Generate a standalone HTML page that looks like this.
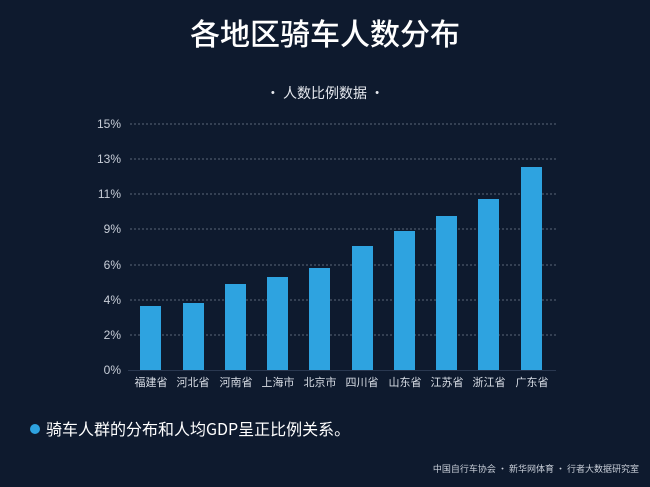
<!DOCTYPE html>
<html><head><meta charset="utf-8"><style>
body{margin:0;width:650px;height:487px;background:#0e1a2e;overflow:hidden;font-family:"Liberation Sans","Noto Sans CJK SC",sans-serif;}
</style></head><body>
<svg width="650" height="487" xmlns="http://www.w3.org/2000/svg" style="position:absolute;left:0;top:0">
<rect width="650" height="487" fill="#0e1a2e"/>
<text x="325" y="45" fill="#fff" font-size="30" text-anchor="middle" font-family="Noto Sans CJK SC,sans-serif" font-weight="500">各地区骑车人数分布</text>
<text x="325" y="98" fill="#e6e9ef" font-size="14" text-anchor="middle" font-family="Noto Sans CJK SC,sans-serif">· 人数比例数据 ·</text>
<g stroke="#5a6578" stroke-width="1" stroke-dasharray="2,2">
<line x1="130" x2="556" y1="124" y2="124"/><line x1="130" x2="556" y1="159" y2="159"/>
<line x1="130" x2="556" y1="194" y2="194"/><line x1="130" x2="556" y1="229" y2="229"/>
<line x1="130" x2="556" y1="265" y2="265"/><line x1="130" x2="556" y1="300" y2="300"/>
<line x1="130" x2="556" y1="335" y2="335"/>
</g>
<g fill="#c8ced8" font-size="12" text-anchor="end">
<text x="121" y="128">15%</text><text x="121" y="163">13%</text><text x="121" y="198">11%</text>
<text x="121" y="233">9%</text><text x="121" y="269">6%</text><text x="121" y="304">4%</text>
<text x="121" y="339">2%</text><text x="121" y="374">0%</text>
</g>
<g fill="#2ea3e0">
<rect x="140" y="306" width="21" height="64"/><rect x="183" y="303" width="21" height="67"/>
<rect x="225" y="284" width="21" height="86"/><rect x="267" y="277" width="21" height="93"/>
<rect x="309" y="268" width="21" height="102"/><rect x="352" y="246" width="21" height="124"/>
<rect x="394" y="231" width="21" height="139"/><rect x="436" y="216" width="21" height="154"/>
<rect x="478" y="199" width="21" height="171"/><rect x="521" y="167" width="21" height="203"/>
</g>
<line x1="128" x2="556" y1="370.5" y2="370.5" stroke="#2a3850"/>
<g fill="#d8dde5" font-size="11" text-anchor="middle" font-family="Noto Sans CJK SC,sans-serif">
<text x="151" y="386">福建省</text><text x="193" y="386">河北省</text><text x="236" y="386">河南省</text>
<text x="278" y="386">上海市</text><text x="320" y="386">北京市</text><text x="362" y="386">四川省</text>
<text x="405" y="386">山东省</text><text x="447" y="386">江苏省</text><text x="489" y="386">浙江省</text>
<text x="532" y="386">广东省</text>
</g>
<circle cx="35" cy="429" r="5" fill="#2ea3e0"/>
<text x="46" y="435" fill="#fff" font-size="16" font-family="Noto Sans CJK SC,sans-serif">骑车人群的分布和人均GDP呈正比例关系。</text>
<text x="639" y="472" fill="#c8ced8" font-size="9" text-anchor="end" font-family="Noto Sans CJK SC,sans-serif">中国自行车协会 · 新华网体育 · 行者大数据研究室</text>
</svg>
</body></html>
